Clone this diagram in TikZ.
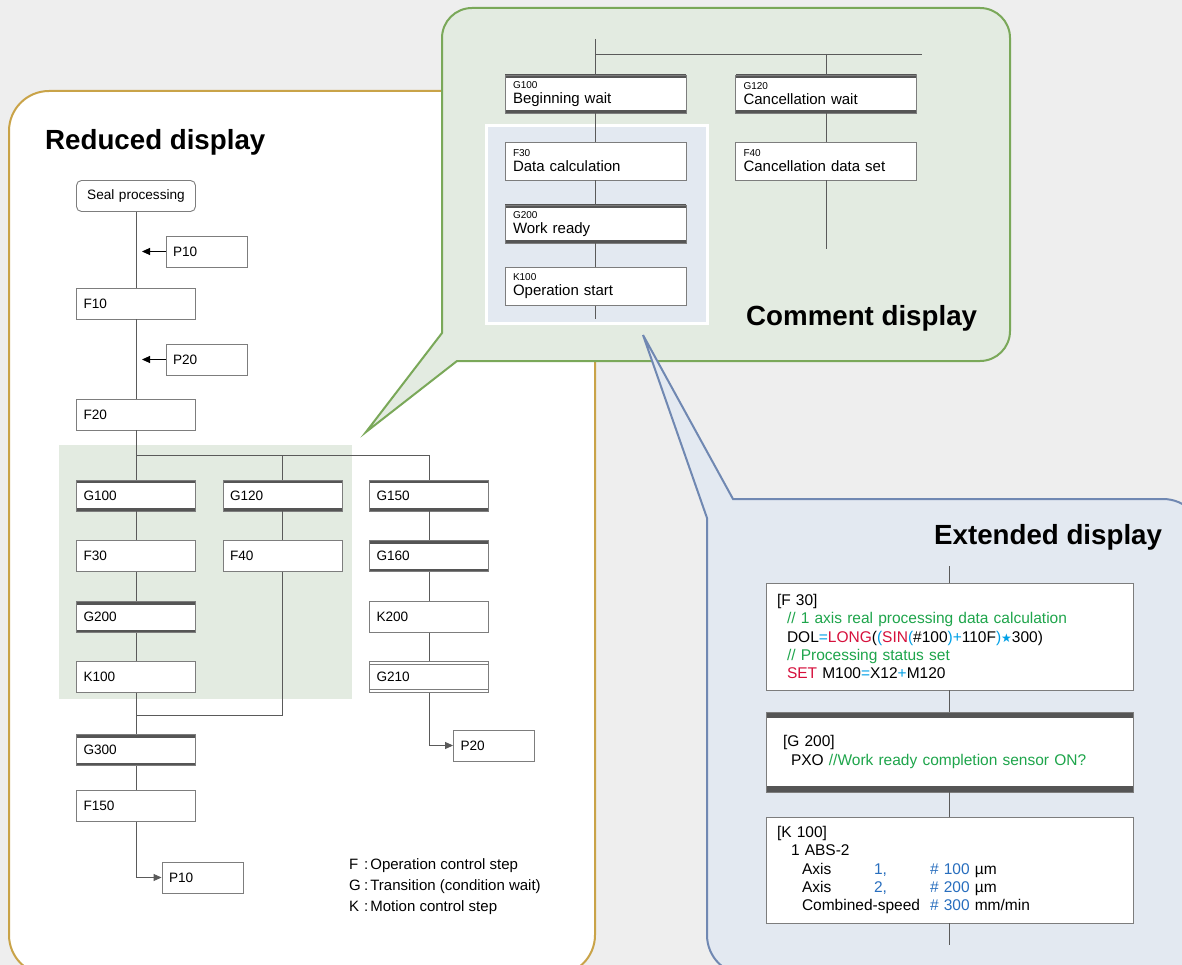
\documentclass[tikz,border=0pt]{standalone}
\usepackage{fontspec}
\setmainfont{Liberation Sans}
\newfontfamily\starfont{DejaVu Sans}
\usetikzlibrary{arrows.meta}

\definecolor{bggray}{RGB}{238,238,238}
\definecolor{goldline}{RGB}{201,163,72}
\definecolor{greenline}{RGB}{122,168,89}
\definecolor{greenfill}{RGB}{227,235,225}
\definecolor{blueline}{RGB}{112,136,178}
\definecolor{bluefill}{RGB}{227,233,241}
\definecolor{boxgray}{RGB}{125,125,125}
\definecolor{linegray}{RGB}{90,90,90}
\definecolor{thickgray}{RGB}{85,85,85}
\definecolor{codered}{RGB}{214,16,60}
\definecolor{codecyan}{RGB}{0,160,230}
\definecolor{codegreen}{RGB}{30,165,75}
\definecolor{codeblue}{RGB}{40,110,190}

\newcommand{\kwd}[1]{\textcolor{codered}{#1}}
\newcommand{\opr}[1]{\textcolor{codecyan}{#1}}
\newcommand{\cmt}[1]{\textcolor{codegreen}{#1}}
\newcommand{\numv}[1]{\textcolor{codeblue}{#1}}
\newcommand{\lblfont}{\fontsize{10}{10}\selectfont}
\newcommand{\thickedges}[1]{\draw[thickgray, line width=#1]
  (path picture bounding box.north west) -- (path picture bounding box.north east)
  (path picture bounding box.south west) -- (path picture bounding box.south east);}

\tikzset{
  stepbox/.style={draw=boxgray, line width=0.9pt, fill=white, minimum height=31pt, text width=105pt,
    inner xsep=7pt, inner ysep=0pt, align=left, font=\fontsize{13.6}{15}\selectfont},
  waitbox/.style={stepbox, path picture={\thickedges{6pt}}},
  dblbox/.style={stepbox, path picture={
    \draw[boxgray, line width=0.9pt] ([yshift=-3pt]path picture bounding box.north west) -- ([yshift=-3pt]path picture bounding box.north east)
      ([yshift=3pt]path picture bounding box.south west) -- ([yshift=3pt]path picture bounding box.south east);}},
  jumpbox/.style={stepbox, text width=67pt},
  startbox/.style={stepbox, rounded corners=5pt, align=center},
  cbox/.style={draw=boxgray, line width=0.9pt, fill=white, minimum height=38pt, text width=165pt,
    inner xsep=8pt, inner ysep=0pt, align=left, font=\fontsize{15}{15}\selectfont},
  cwait/.style={cbox, path picture={\thickedges{6pt}}},
  ebox/.style={draw=boxgray, line width=0.9pt, fill=white, text width=345pt, inner xsep=11pt,
    align=left, font=\fontsize{15.5}{18.25}\selectfont},
  ewait/.style={ebox, path picture={\thickedges{12pt}}},
  title/.style={anchor=base west, inner sep=0pt, font=\fontsize{27.7}{30}\selectfont\bfseries},
  legend/.style={anchor=base west, inner sep=0pt, font=\fontsize{15}{18}\selectfont},
  conn/.style={linegray, line width=0.9pt},
  jump/.style={conn, -{Triangle[length=8pt,width=7pt]}},
  back/.style={black, line width=0.9pt, -{Triangle[length=8pt,width=7pt]}}
}

\begin{document}
\begin{tikzpicture}[x=1pt,y=-1pt]
\path[use as bounding box, fill=bggray] (0,0) rectangle (1182,965);
\clip (0,0) rectangle (1182,965);

% reduced display
\draw[goldline, line width=2pt, fill=white, rounded corners=40pt] (9,91) rectangle (595,975);
\fill[greenfill] (59,445) rectangle (352,699);
\node[title] (redtitle) at (45,149.5) {Reduced display};

\node[startbox] (seal) at (136,196) {Seal processing};
\node[jumpbox] (p10a) at (206.5,251.5) {P10};
\node[stepbox] (f10) at (136,303.5) {F10};
\node[jumpbox] (p20a) at (206.5,359.5) {P20};
\node[stepbox] (f20) at (136,414.5) {F20};
\node[waitbox] (g100) at (136,495.5) {G100};
\node[waitbox] (g120) at (282.5,495.5) {G120};
\node[waitbox] (g150) at (429,495.5) {G150};
\node[stepbox] (f30) at (136,556) {F30};
\node[stepbox] (f40) at (282.5,556) {F40};
\node[waitbox] (g160) at (429,556) {G160};
\node[waitbox] (g200) at (136,617) {G200};
\node[stepbox] (k200) at (429,617) {K200};
\node[stepbox] (k100) at (136,677) {K100};
\node[dblbox] (g210) at (429,677) {G210};
\node[waitbox] (g300) at (136,750) {G300};
\node[stepbox] (f150) at (136,806) {F150};
\node[jumpbox] (p20b) at (494,745.5) {P20};
\node[jumpbox] (p10b) at (202.5,877.5) {P10};

\coordinate (p10tip) at (142,251.5);
\coordinate (p20tip) at (142,359.5);
\coordinate (fork) at (136,455);
\coordinate (merge) at (136,715);

\draw[conn] (seal) -- (f10) (f10) -- (f20) (f20) -- (g100);
\draw[back] (p10a) -- (p10tip);
\draw[back] (p20a) -- (p20tip);
\draw[conn] (fork) -| (g150.north);
\draw[conn] (g120.north |- fork) -- (g120);
\draw[conn] (g100) -- (f30) (f30) -- (g200) (g200) -- (k100) (k100) -- (g300);
\draw[conn] (g120) -- (f40);
\draw[conn] (f40) |- (merge);
\draw[conn] (g150) -- (g160) (g160) -- (k200) (k200) -- (g210);
\draw[jump] (g210) |- (p20b);
\draw[conn] (g300) -- (f150);
\draw[jump] (f150) |- (p10b);

\node[legend] (lgf) at (349,869.3) {\makebox[15pt][l]{F}:\hspace{2pt}Operation control step};
\node[legend] (lgg) at (349,890.5) {\makebox[15pt][l]{G}:\hspace{2pt}Transition (condition wait)};
\node[legend] (lgk) at (349,911.5) {\makebox[15pt][l]{K}:\hspace{2pt}Motion control step};

% comment display
\path[draw=greenline, line width=2pt, fill=greenfill] (457,361) -- (366,432) -- (442,333) -- (442,38)
  arc[start angle=180, end angle=270, radius=30] -- (980,8)
  arc[start angle=270, end angle=360, radius=30] -- (1010,331)
  arc[start angle=0, end angle=90, radius=30] -- cycle;
\draw[white, line width=3pt, fill=bluefill] (486,126) rectangle (707,323);

\node[cwait] (cg100) at (595.5,94) {{\lblfont G100}\\Beginning wait};
\node[cwait] (cg120) at (826,94) {{\lblfont G120}\\Cancellation wait};
\node[cbox] (cf30) at (595.5,161) {{\lblfont F30}\\Data calculation};
\node[cbox] (cf40) at (826,161) {{\lblfont F40}\\Cancellation data set};
\node[cwait] (cg200) at (595.5,224) {{\lblfont G200}\\Work ready};
\node[cbox] (ck100) at (595.5,286.5) {{\lblfont K100}\\Operation start};

\coordinate (ctop) at (595.5,39);
\coordinate (cfork) at (595.5,54);
\coordinate (cend) at (922,54);
\coordinate (cbot) at (595.5,319);
\coordinate (cf40end) at (826,249);

\draw[conn] (ctop) -- (cg100) (cfork) -- (cend) (cg120.north |- cfork) -- (cg120);
\draw[conn] (cg100) -- (cf30) (cf30) -- (cg200) (cg200) -- (ck100) (ck100) -- (cbot);
\draw[conn] (cg120) -- (cf40) (cf40) -- (cf40end);
\node[title] (comtitle) at (746,325) {Comment display};

% extended display
\path[draw=blueline, line width=2pt, fill=bluefill] (707,518) -- (643,335) -- (733,499) -- (1163,499)
  arc[start angle=270, end angle=360, radius=40] -- (1203,935)
  arc[start angle=0, end angle=90, radius=40] -- (747,975)
  arc[start angle=90, end angle=180, radius=40] -- cycle;
\node[title] (exttitle) at (934,544) {Extended display};

\node[ebox, minimum height=107pt] (ef30) at (949.5,636.5) {[F 30]\\
  \hspace*{10pt}\cmt{// 1 axis real processing data calculation}\\
  \hspace*{10pt}DOL\opr{=}\kwd{LONG}(\opr{(}\kwd{SIN}\opr{(}\#100\opr{)+}110F\opr{)}{\starfont\fontsize{12}{12}\selectfont\opr{★}}300)\\
  \hspace*{10pt}\cmt{// Processing status set}\\
  \hspace*{10pt}\kwd{SET} M100\opr{=}X12\opr{+}M120};
\node[ewait, minimum height=80pt] (eg200) at (949.5,752) {\hspace*{6pt}[G 200]\\
  \hspace*{14pt}PXO \cmt{//Work ready completion sensor ON?}};
\node[ebox, minimum height=106pt] (ek100) at (949.5,870) {[K 100]\\
  \hspace*{14pt}1 ABS-2\\
  \hspace*{25pt}\makebox[72pt][l]{Axis}\makebox[56pt][l]{\numv{1,}}\numv{\# 100} µm\\
  \hspace*{25pt}\makebox[72pt][l]{Axis}\makebox[56pt][l]{\numv{2,}}\numv{\# 200} µm\\
  \hspace*{25pt}\makebox[128pt][l]{Combined-speed}\numv{\# 300} mm/min};

\coordinate (etop) at (949.5,566);
\coordinate (ebot) at (949.5,945);
\draw[conn] (etop) -- (ef30) (ef30) -- (eg200) (eg200) -- (ek100) (ek100) -- (ebot);
\end{tikzpicture}
\end{document}
